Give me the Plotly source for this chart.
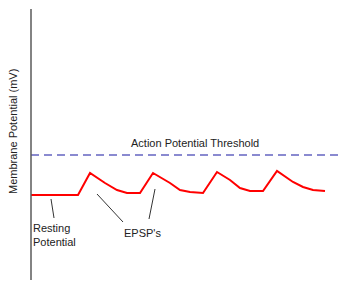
import plotly.graph_objects as go

# Time (arbitrary units) and membrane potential relative to resting (arbitrary mV units)
time = [0, 47, 59, 74, 86, 96, 109, 122, 139, 149, 159, 172, 186, 199, 209, 219, 232,
        246, 262, 272, 282, 294]
potential = [0, 0, 22, 12, 5, 2, 2, 22, 12, 5, 3, 2, 23, 15, 7, 4, 4, 24, 13, 8, 5, 4]

threshold = 40
threshold_span = [0, 311]
axis_span = [-85, 186]

labels = ["Action Potential Threshold", "Resting<br>Potential", "EPSP's", "Membrane Potential (mV)"]

fig = go.Figure()

fig.add_trace(go.Scatter(x=threshold_span, y=[threshold, threshold], mode="lines",
                         line=dict(color="#8a8ad0", width=2, dash="8px,5px"),
                         hoverinfo="skip"))
fig.add_trace(go.Scatter(x=time, y=potential, mode="lines",
                         line=dict(color="#ff0000", width=2),
                         hoverinfo="skip"))

# vertical axis line
fig.add_shape(type="line", x0=0, x1=0, y0=axis_span[0], y1=axis_span[1],
              line=dict(color="#5a5a5a", width=1.5))

# pointer lines
for (x0, y0, x1, y1) in [(20, -4, 23, -23), (66, 1, 92, -27), (124, 6, 118, -24)]:
    fig.add_shape(type="line", x0=x0, y0=y0, x1=x1, y1=y1,
                  line=dict(color="#333333", width=1))

font = dict(family="Liberation Sans, Arial, sans-serif", size=11, color="#222222")
fig.add_annotation(x=164, y=52, text=labels[0], showarrow=False, font=font)
fig.add_annotation(x=0, y=-40, text=labels[1], showarrow=False, font=font,
                   xanchor="left", align="left")
fig.add_annotation(x=111, y=-38, text=labels[2], showarrow=False, font=font)
fig.add_annotation(x=-18, y=63, text=labels[3], showarrow=False, font=font, textangle=-90)

fig.update_layout(
    width=342, height=283,
    margin=dict(l=0, r=0, t=0, b=0),
    paper_bgcolor="white", plot_bgcolor="white",
    showlegend=False,
    xaxis=dict(range=[-31, 311], visible=False, fixedrange=True),
    yaxis=dict(range=[-88, 195], visible=False, fixedrange=True),
)

fig.write_html("out.html", config={"displayModeBar": False},
               post_script="document.body.style.margin='0';document.body.style.overflow='hidden';")
